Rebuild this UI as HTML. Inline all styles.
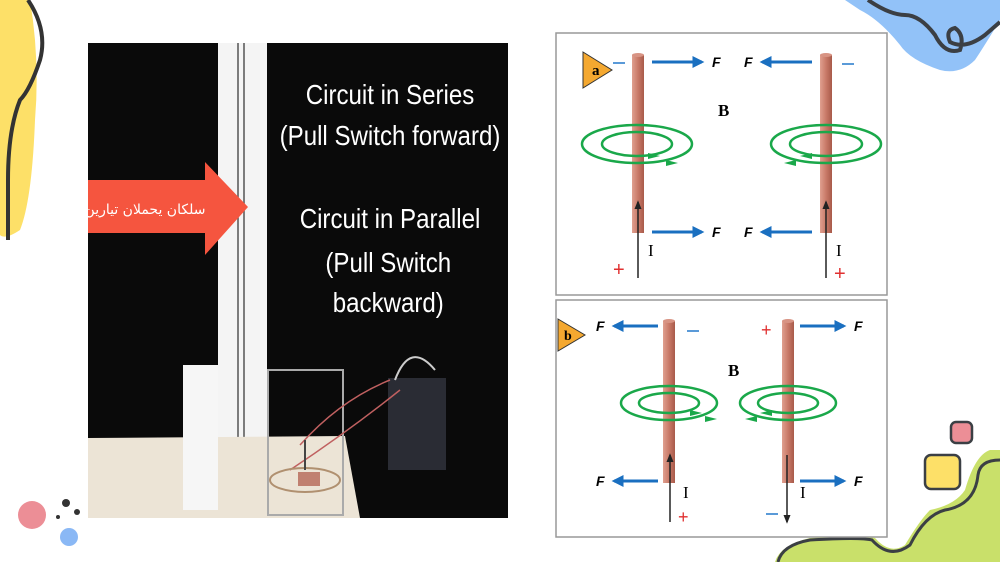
<!DOCTYPE html>
<html><head><meta charset="utf-8"><style>
body{margin:0;width:1000px;height:562px;overflow:hidden;background:#fff;font-family:"Liberation Sans",sans-serif;position:relative}
svg{position:absolute;left:0;top:0}
</style></head><body>
<svg width="1000" height="562" viewBox="0 0 1000 562">
<defs>
<linearGradient id="rod" x1="0" x2="1"><stop offset="0" stop-color="#e0a090"/><stop offset="0.5" stop-color="#c97a68"/><stop offset="1" stop-color="#a85a4a"/></linearGradient>
<marker id="bl" viewBox="0 0 10 10" refX="8" refY="5" markerWidth="4" markerHeight="4" orient="auto"><path d="M0 0L10 5L0 10z" fill="#1a6fc0"/></marker>
<marker id="bk" viewBox="0 0 10 10" refX="8" refY="5" markerWidth="6" markerHeight="6" orient="auto"><path d="M0 1L10 5L0 9z" fill="#222"/></marker>
</defs>
<!-- decorations -->
<path d="M0 0 L30 0 Q40 60 35 120 Q32 200 20 230 Q5 240 0 235Z" fill="#fde068"/>
<path d="M28 0 Q48 30 40 60 Q30 90 20 100 Q8 130 8 180 L8 240" stroke="#333" stroke-width="4" fill="none"/>
<circle cx="32" cy="515" r="14" fill="#ec8e96"/>
<circle cx="69" cy="537" r="9" fill="#8ab8f5"/>
<circle cx="66" cy="503" r="4" fill="#333"/><circle cx="77" cy="512" r="3" fill="#333"/><circle cx="58" cy="517" r="2" fill="#333"/>
<path d="M845 0 L1000 0 L1000 20 Q985 45 975 60 Q960 75 940 70 Q910 60 900 45 Q880 20 860 10Z" fill="#92c2f8"/>
<path d="M868 0 Q890 15 905 15 Q920 15 935 35 Q945 55 960 50 Q965 35 955 28 Q945 30 950 42 Q965 50 985 35 L1000 22" stroke="#3b3f44" stroke-width="4" fill="none"/>
<path d="M775 562 Q780 545 810 538 Q860 535 875 538 Q890 555 905 545 Q920 520 930 510 Q955 505 965 490 Q975 455 990 450 L1000 450 L1000 562Z" fill="#c9e06a"/>
<path d="M778 562 Q782 545 810 540 Q860 537 872 540 Q890 560 910 545 Q925 515 945 510 Q975 505 978 475 Q980 460 1000 460" stroke="#3b3f44" stroke-width="3" fill="none"/>
<rect x="951" y="422" width="21" height="21" rx="5" fill="#ec8e96" stroke="#3b3f44" stroke-width="2.5"/>
<rect x="925" y="455" width="35" height="34" rx="6" fill="#fde068" stroke="#3b3f44" stroke-width="2.5"/>
<!-- photo -->
<rect x="88" y="43" width="420" height="475" fill="#0a0a0a"/>
<rect x="218" y="43" width="49" height="475" fill="#f4f4f4"/>
<line x1="238" y1="43" x2="238" y2="490" stroke="#555" stroke-width="1.5"/>
<line x1="244" y1="43" x2="244" y2="490" stroke="#555" stroke-width="1.5"/>
<path d="M88 438 L345 436 L360 518 L88 518Z" fill="#ece4d6"/>
<rect x="183" y="365" width="35" height="145" fill="#f6f6f6"/>
<rect x="268" y="370" width="75" height="145" fill="none" stroke="#aaa" stroke-width="2"/>
<rect x="388" y="378" width="58" height="92" fill="#2a2c34"/>
<path d="M395 380 Q410 340 435 370" stroke="#ccc" stroke-width="2" fill="none"/>
<path d="M300 445 Q340 400 390 380 M290 470 Q350 430 400 390" stroke="#c06060" stroke-width="1.5" fill="none"/>
<ellipse cx="305" cy="480" rx="35" ry="12" fill="none" stroke="#b09070" stroke-width="2"/>
<rect x="298" y="472" width="22" height="14" fill="#c08070"/>
<line x1="305" y1="440" x2="305" y2="470" stroke="#444" stroke-width="2"/>
<path d="M88 180 L205 180 L205 162 L248 207 L205 255 L205 233 L88 233Z" fill="#f5553f"/>
<text x="145" y="214" fill="#fff" font-size="14" text-anchor="middle" font-family="'DejaVu Sans',sans-serif">سلكان يحملان تيارين</text>
<g fill="#fff" font-size="28" text-anchor="middle" font-family="'Liberation Sans',sans-serif" transform="translate(390 0) scale(0.86 1)">
<text x="0" y="104">Circuit in Series</text>
<text x="0" y="145">(Pull Switch forward)</text>
<text x="0" y="228">Circuit in Parallel</text>
<text x="-2" y="272">(Pull Switch</text>
<text x="-2" y="312">backward)</text>
</g>
<!-- panel a -->
<rect x="556" y="33" width="331" height="262" fill="#fff" stroke="#999" stroke-width="1.5"/>
<path d="M583 52 L612 70 L583 88Z" fill="#f4a830" stroke="#333"/>
<text x="592" y="75" font-family="'Liberation Serif',serif" font-weight="bold" font-size="15">a</text>
<rect x="632" y="55" width="12" height="178" fill="url(#rod)"/><ellipse cx="638" cy="55" rx="6" ry="2" fill="#d89484"/>
<rect x="820" y="55" width="12" height="178" fill="url(#rod)"/><ellipse cx="826" cy="55" rx="6" ry="2" fill="#d89484"/>
<g stroke="#1a6fc0" stroke-width="3" marker-end="url(#bl)">
<line x1="652" y1="62" x2="702" y2="62"/><line x1="812" y1="62" x2="762" y2="62"/>
<line x1="652" y1="232" x2="702" y2="232"/><line x1="812" y1="232" x2="762" y2="232"/>
</g>
<g font-size="14" font-weight="bold" font-style="italic"><text x="712" y="67">F</text><text x="744" y="67">F</text><text x="712" y="237">F</text><text x="744" y="237">F</text></g>
<text x="718" y="116" font-family="'Liberation Serif',serif" font-weight="bold" font-size="17">B</text>
<g fill="none" stroke="#1aa84a" stroke-width="2.5">
<ellipse cx="637" cy="144" rx="55" ry="19"/><ellipse cx="637" cy="144" rx="35" ry="12"/>
<ellipse cx="826" cy="144" rx="55" ry="19"/><ellipse cx="826" cy="144" rx="36" ry="12"/>
</g>
<g fill="#1aa84a">
<path d="M648 153 L660 156 L648 159Z"/><path d="M666 160 L678 163 L666 166Z"/>
<path d="M812 153 L800 156 L812 159Z"/><path d="M796 160 L784 163 L796 166Z"/>
</g>
<g stroke="#222" stroke-width="1.5" marker-end="url(#bk)"><line x1="638" y1="278" x2="638" y2="202"/><line x1="826" y1="278" x2="826" y2="202"/></g>
<g font-family="'Liberation Serif',serif" font-size="17"><text x="648" y="256">I</text><text x="836" y="256">I</text></g>
<g fill="#e03030" font-size="20"><text x="613" y="276">+</text><text x="834" y="280">+</text></g>
<g stroke="#5a9ad8" stroke-width="2"><line x1="613" y1="63" x2="625" y2="63"/><line x1="842" y1="64" x2="854" y2="64"/></g>
<!-- panel b -->
<rect x="556" y="300" width="331" height="237" fill="#fff" stroke="#999" stroke-width="1.5"/>
<path d="M558 319 L585 335 L558 351Z" fill="#f4a830" stroke="#333"/>
<text x="564" y="340" font-family="'Liberation Serif',serif" font-weight="bold" font-size="14">b</text>
<rect x="663" y="321" width="12" height="162" fill="url(#rod)"/><ellipse cx="669" cy="321" rx="6" ry="2" fill="#d89484"/>
<rect x="782" y="321" width="12" height="162" fill="url(#rod)"/><ellipse cx="788" cy="321" rx="6" ry="2" fill="#d89484"/>
<g stroke="#1a6fc0" stroke-width="3" marker-end="url(#bl)">
<line x1="658" y1="326" x2="614" y2="326"/><line x1="800" y1="326" x2="844" y2="326"/>
<line x1="658" y1="481" x2="614" y2="481"/><line x1="800" y1="481" x2="844" y2="481"/>
</g>
<g font-size="14" font-weight="bold" font-style="italic"><text x="596" y="331">F</text><text x="854" y="331">F</text><text x="596" y="486">F</text><text x="854" y="486">F</text></g>
<text x="728" y="376" font-family="'Liberation Serif',serif" font-weight="bold" font-size="17">B</text>
<g fill="none" stroke="#1aa84a" stroke-width="2.5">
<ellipse cx="669" cy="403" rx="48" ry="17"/><ellipse cx="669" cy="403" rx="30" ry="10"/>
<ellipse cx="788" cy="403" rx="48" ry="17"/><ellipse cx="788" cy="403" rx="30" ry="10"/>
</g>
<g fill="#1aa84a">
<path d="M690 410 L702 413 L690 416Z"/><path d="M705 416 L717 419 L705 422Z"/>
<path d="M772 410 L760 413 L772 416Z"/><path d="M757 416 L745 419 L757 422Z"/>
</g>
<g stroke="#222" stroke-width="1.5" marker-end="url(#bk)"><line x1="670" y1="522" x2="670" y2="455"/><line x1="787" y1="455" x2="787" y2="522"/></g>
<g font-family="'Liberation Serif',serif" font-size="17"><text x="683" y="498">I</text><text x="800" y="498">I</text></g>
<text x="678" y="523" fill="#e03030" font-size="18">+</text>
<text x="761" y="336" fill="#e03030" font-size="18">+</text>
<g stroke="#5a9ad8" stroke-width="2"><line x1="687" y1="331" x2="699" y2="331"/><line x1="766" y1="514" x2="778" y2="514"/></g>
</svg>
</body></html>
